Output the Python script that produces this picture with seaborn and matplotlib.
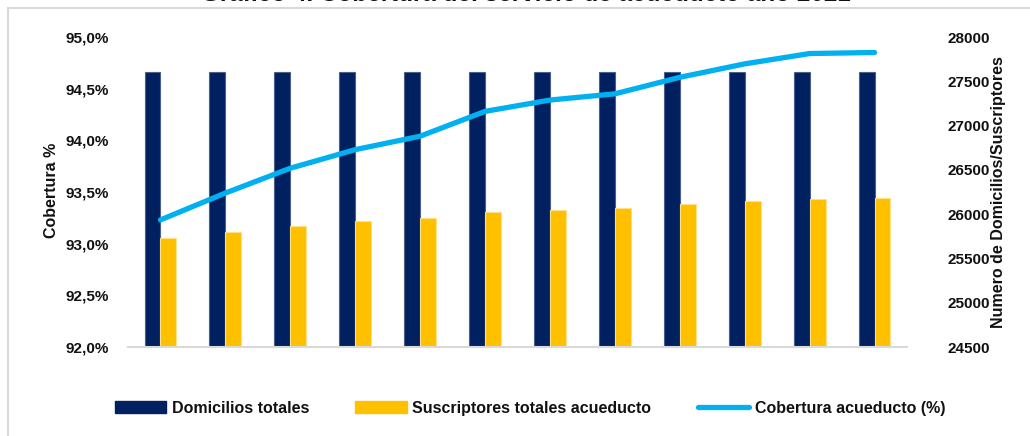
import numpy as np
import pandas as pd
import seaborn as sns
import matplotlib
matplotlib.use("Agg")
import matplotlib.pyplot as plt
from matplotlib.patches import Patch, Rectangle
from matplotlib.lines import Line2D

meses = ["ene-21", "feb-21", "mar-21", "abr-21", "may-21", "jun-21",
         "jul-21", "ago-21", "sep-21", "oct-21", "nov-21", "dic-21"]
domicilios = [27610, 27610, 27610, 27610, 27610, 27610,
              27610, 27610, 27610, 27610, 27610, 27610]
suscriptores = [25735, 25803, 25871, 25924, 25961, 26026,
                26052, 26071, 26120, 26150, 26176, 26184]
cobertura = [93.23, 93.49, 93.73, 93.91, 94.04, 94.28,
             94.39, 94.45, 94.61, 94.74, 94.84, 94.85]

left_ticks = [92.0, 92.5, 93.0, 93.5, 94.0, 94.5, 95.0]
left_labels = ["92,0%", "92,5%", "93,0%", "93,5%", "94,0%", "94,5%", "95,0%"]
right_ticks = [24500, 25000, 25500, 26000, 26500, 27000, 27500, 28000]

serie_dom = "Domicilios totales"
serie_sus = "Suscriptores totales acueducto"
serie_cob = "Cobertura acueducto (%)"

NAVY = "#002060"
YELLOW = "#FFC000"
CYAN = "#00B0F0"
GRAY = "#D9D9D9"
TXT = "#111111"

sns.set_theme(style="white")
plt.rcParams["font.family"] = ["Liberation Sans", "DejaVu Sans"]
plt.rcParams["font.weight"] = "bold"

fig = plt.figure(figsize=(10.30, 4.36), dpi=100)
ax = fig.add_axes([128/1030, 1-347/436, (907-128)/1030, (347-37)/436])
ax2 = ax.twinx()

df = pd.DataFrame({
    "mes": meses * 2,
    "valor": domicilios + suscriptores,
    "serie": [serie_dom] * 12 + [serie_sus] * 12,
})
sns.barplot(data=df, x="mes", y="valor", hue="serie", order=meses,
            hue_order=[serie_dom, serie_sus], palette=[NAVY, YELLOW],
            saturation=1, width=0.49, gap=0, ax=ax2, legend=False,
            errorbar=None, linewidth=0)
for p in ax2.patches:
    fc = p.get_facecolor()
    p.set_linewidth(0.8)
    if fc[0] > 0.9:
        p.set_edgecolor("#FFE08A")
    else:
        p.set_edgecolor("#4A5F8C")

dfl = pd.DataFrame({"mes": meses, "cob": cobertura})
sns.lineplot(data=dfl, x="mes", y="cob", ax=ax, color=CYAN, linewidth=3.8,
             solid_capstyle="round", solid_joinstyle="round", sort=False)

ax.set_zorder(ax2.get_zorder() + 1)
ax.patch.set_visible(False)

ax.set_ylim(92.0, 95.0)
ax2.set_ylim(24500, 28000)
ax.set_xlim(-0.5, 11.5)
ax2.set_xlim(-0.5, 11.5)

ax.set_yticks(left_ticks)
ax.set_yticklabels(left_labels)
ax2.set_yticks(right_ticks)
ax2.set_yticklabels([str(t) for t in right_ticks])

ax.set_xticks(range(len(meses)))
ax.set_xticklabels(meses)
ax.set_xticks(np.arange(-0.5, 12, 1), minor=True)
ax2.set_xticks([])

for a in (ax, ax2):
    for s in a.spines.values():
        s.set_visible(False)
ax.spines["bottom"].set_visible(True)
ax.spines["bottom"].set_color(GRAY)
ax.spines["bottom"].set_linewidth(1.5)

ax.tick_params(axis="x", which="major", length=0, pad=10, labelsize=11)
ax.tick_params(axis="x", which="minor", length=6, width=1.5, color=GRAY,
               direction="out")
ax.tick_params(axis="y", length=0, pad=14, labelsize=11)
ax2.tick_params(axis="y", length=0, pad=29, labelsize=11)
for lbl in ax.get_xticklabels() + ax.get_yticklabels() + ax2.get_yticklabels():
    lbl.set_fontweight("bold")
    lbl.set_color(TXT)

ax.set_xlabel("")
ax.set_ylabel("")
ax2.set_ylabel("")
fig.text(52/1030, 1-190/436, "Cobertura %", rotation=90, ha="center",
         va="center", fontsize=11.5, fontweight="bold", color=TXT)
fig.text(999/1030, 1-192/436, "Numero de Domicilios/Suscriptores", rotation=90,
         ha="center", va="center", fontsize=11.5, fontweight="bold",
         color=TXT)

# frame
fig.patches.append(Rectangle((8/1030, -0.05), 1.05, 1 - 8/436 + 0.05,
                             transform=fig.transFigure, fill=False,
                             edgecolor=GRAY, linewidth=1.5))

fig.text(526/1030, 1-1/436, "Gráfico 4. Cobertura del servicio de acueducto año 2021",
         ha="center", va="baseline", fontsize=17.5, fontweight="bold",
         color=TXT)

handles = [Patch(facecolor=NAVY, edgecolor=NAVY),
           Patch(facecolor=YELLOW, edgecolor=YELLOW),
           Line2D([0], [0], color=CYAN, linewidth=3.8, solid_capstyle="round")]
leg = fig.legend(handles, [serie_dom, serie_sus, serie_cob], ncol=3,
                 loc="center", bbox_to_anchor=(530/1030, 1-408/436),
                 frameon=False, handlelength=3.2, handleheight=0.7,
                 handletextpad=0.37, columnspacing=2.9,
                 prop={"size": 11.5, "weight": "bold"})
for t in leg.get_texts():
    t.set_color(TXT)

fig.savefig("out.png", dpi=100)
